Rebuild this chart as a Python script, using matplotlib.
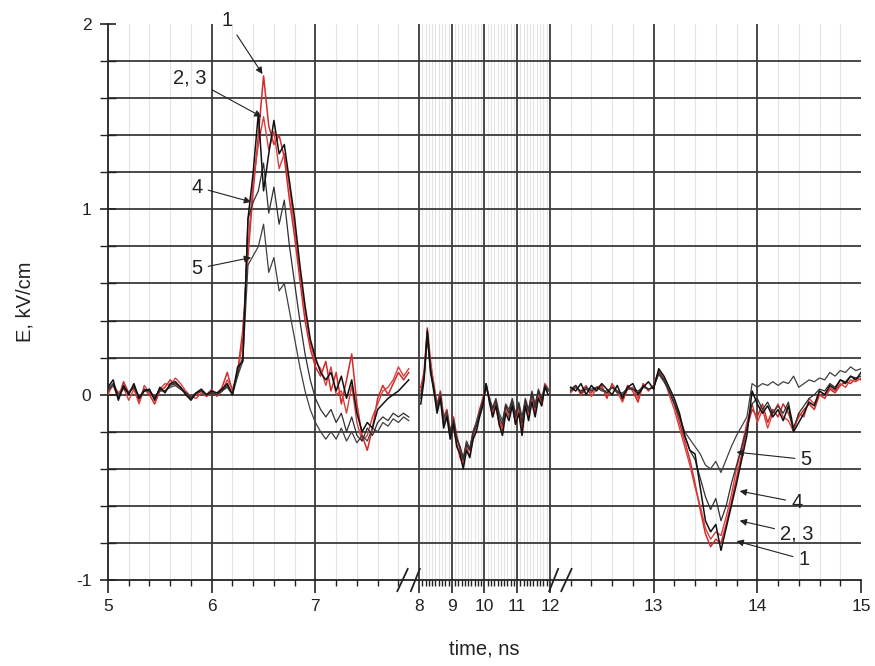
import matplotlib
matplotlib.use('Agg')
import matplotlib.pyplot as plt
import matplotlib.transforms as mtransforms
import numpy as np

plt.rcParams['font.family'] = ['Liberation Sans', 'DejaVu Sans']
plt.rcParams['axes.unicode_minus'] = False

# time samples of the three recorded pieces (ns)
tA = np.round(np.arange(5.0, 7.901, 0.05), 2)
tB = np.round(np.arange(8.05, 11.951, 0.1), 2)
tC = np.round(np.arange(12.2, 15.001, 0.05), 2)

# field, kV/cm
c1A = [0.02, 0.05, -0.02, 0.07, 0.01, 0.04, -0.04, 0.03, 0.00, -0.05, 0.02, 0.04, 0.08, 0.05, 0.03, 0.01, -0.02, 0.00, 0.02, -0.01, 0.01, 0.00, 0.04, 0.12, 0.02,
       0.12, 0.35, 0.75, 1.10, 1.40, 1.72, 1.45, 1.35, 1.40, 1.28, 1.05, 0.85, 0.62, 0.40, 0.25, 0.15, 0.10, 0.18, 0.02, 0.12,
       -0.05, 0.08, 0.22, -0.05, -0.22, -0.30, -0.18, -0.02, 0.05, 0.00, 0.06, 0.12, 0.08, 0.12]
c2A = [0.04, 0.08, -0.03, 0.05, 0.00, 0.06, -0.02, 0.02, 0.03, -0.03, 0.04, 0.01, 0.06, 0.07, 0.04, 0.00, -0.03, 0.01, 0.03, 0.00, 0.02, 0.01, 0.03, 0.06, 0.00,
       0.15, 0.18, 0.95, 1.20, 1.52, 1.10, 1.30, 1.48, 1.30, 1.35, 1.15, 0.95, 0.70, 0.48, 0.30, 0.20, 0.12, 0.08, 0.12, 0.02,
       0.10, -0.02, 0.08, -0.10, -0.20, -0.15, -0.18, -0.08, -0.05, -0.02, 0.00, 0.02, 0.05, 0.08]
c3A = [0.00, 0.06, 0.01, 0.04, -0.03, 0.03, -0.05, 0.05, 0.01, -0.02, 0.03, 0.06, 0.05, 0.09, 0.06, 0.02, -0.01, -0.02, 0.01, 0.00, 0.03, -0.01, 0.02, 0.08, 0.03,
       0.10, 0.30, 0.80, 1.15, 1.35, 1.50, 1.32, 1.42, 1.22, 1.30, 1.12, 0.90, 0.66, 0.45, 0.28, 0.18, 0.14, 0.05, 0.15, 0.00,
       0.02, -0.10, 0.05, -0.15, -0.25, -0.22, -0.12, -0.05, 0.02, 0.04, 0.08, 0.15, 0.10, 0.14]
c4A = [0.03, 0.06, -0.02, 0.04, 0.01, 0.05, -0.02, 0.03, 0.02, -0.02, 0.03, 0.02, 0.05, 0.06, 0.04, 0.01, -0.02, 0.01, 0.02, 0.00, 0.01, 0.00, 0.02, 0.05, 0.00,
       0.12, 0.20, 0.95, 1.04, 1.10, 1.25, 0.98, 1.12, 0.92, 1.05, 0.80, 0.60, 0.40, 0.22, 0.08, -0.02, -0.08, -0.12, -0.08, -0.15,
       -0.10, -0.20, -0.12, -0.22, -0.25, -0.18, -0.22, -0.15, -0.12, -0.14, -0.10, -0.12, -0.10, -0.12]
c5A = [0.02, 0.05, 0.00, 0.03, 0.01, 0.04, -0.01, 0.02, 0.02, -0.01, 0.02, 0.02, 0.04, 0.05, 0.03, 0.01, -0.01, 0.01, 0.02, 0.00, 0.01, 0.00, 0.02, 0.04, 0.00,
       0.10, 0.18, 0.70, 0.75, 0.80, 0.92, 0.66, 0.74, 0.56, 0.60, 0.45, 0.30, 0.15, 0.02, -0.08, -0.15, -0.20, -0.24, -0.20, -0.24,
       -0.18, -0.25, -0.20, -0.26, -0.22, -0.25, -0.18, -0.20, -0.15, -0.17, -0.13, -0.15, -0.12, -0.14]

c1B = [0.04, 0.12, 0.36, 0.18, 0.04, -0.05, 0.02, -0.12, -0.08, -0.20, -0.12, -0.22, -0.30, -0.36, -0.26, -0.30, -0.20, -0.15, -0.08, -0.02,
       0.05, -0.02, -0.12, -0.04, -0.14, -0.18, -0.06, -0.10, -0.04, -0.14, -0.06, -0.18, -0.04, -0.10, 0.00, -0.08, 0.02, -0.04, 0.06, 0.03]
c2B = [-0.05, 0.08, 0.34, 0.12, 0.02, -0.10, -0.02, -0.18, -0.12, -0.24, -0.16, -0.28, -0.32, -0.40, -0.30, -0.34, -0.24, -0.20, -0.12, -0.06,
       0.06, -0.04, -0.12, -0.06, -0.16, -0.22, -0.10, -0.14, -0.06, -0.16, -0.10, -0.22, -0.06, -0.14, -0.04, -0.12, -0.02, -0.06, 0.04, 0.00]
c3B = [0.02, 0.10, 0.32, 0.16, 0.06, -0.06, 0.00, -0.14, -0.10, -0.22, -0.18, -0.26, -0.34, -0.38, -0.28, -0.33, -0.24, -0.16, -0.10, -0.04,
       0.04, -0.01, -0.10, -0.06, -0.16, -0.20, -0.08, -0.12, -0.05, -0.16, -0.08, -0.20, -0.06, -0.12, -0.02, -0.10, 0.00, -0.06, 0.04, 0.02]
c4B = [-0.02, 0.10, 0.35, 0.14, 0.03, -0.08, -0.01, -0.16, -0.11, -0.21, -0.14, -0.24, -0.28, -0.35, -0.27, -0.30, -0.21, -0.17, -0.10, -0.05,
       0.06, -0.03, -0.08, -0.03, -0.12, -0.16, -0.06, -0.10, -0.03, -0.12, -0.05, -0.15, -0.03, -0.09, 0.01, -0.07, 0.02, -0.03, 0.05, 0.02]
c5B = [0.00, 0.09, 0.30, 0.12, 0.04, -0.07, 0.01, -0.13, -0.09, -0.20, -0.13, -0.23, -0.28, -0.34, -0.25, -0.29, -0.20, -0.15, -0.09, -0.03,
       0.04, -0.02, -0.07, -0.02, -0.10, -0.14, -0.05, -0.08, -0.02, -0.10, -0.04, -0.12, -0.02, -0.08, 0.02, -0.05, 0.03, -0.02, 0.05, 0.03]

c1C = [0.02, 0.05, 0.00, 0.03, 0.01, 0.04, 0.05, -0.02, 0.06, 0.01, -0.03, 0.05, 0.02, -0.04, 0.06, 0.02, 0.05,
       0.13, 0.08, 0.02, -0.05, -0.15, -0.25, -0.35, -0.48, -0.62, -0.75, -0.82, -0.78, -0.80, -0.70, -0.58, -0.45, -0.32, -0.18, -0.08, -0.12,
       -0.05, -0.15, -0.08, -0.12, -0.05, -0.10, -0.18, -0.12, -0.08, -0.05, -0.08, 0.00, -0.02, 0.03, 0.01, 0.05, 0.07, 0.06, 0.09, 0.08]
c2C = [0.04, 0.02, 0.06, 0.00, 0.05, 0.02, 0.06, 0.03, 0.00, 0.05, -0.02, 0.04, 0.06, 0.00, 0.04, 0.07, 0.03,
       0.14, 0.10, 0.04, -0.02, -0.10, -0.22, -0.30, -0.32, -0.50, -0.68, -0.74, -0.70, -0.84, -0.72, -0.60, -0.48, -0.35, -0.22, 0.02, -0.05,
       -0.10, -0.06, -0.12, -0.08, -0.14, -0.06, -0.20, -0.15, -0.10, -0.04, -0.06, 0.02, 0.00, 0.05, 0.03, 0.08, 0.06, 0.10, 0.08, 0.12]
c3C = [0.01, 0.04, 0.02, 0.05, -0.01, 0.03, 0.04, 0.00, 0.05, 0.02, -0.04, 0.03, 0.04, -0.02, 0.05, 0.03, 0.04,
       0.12, 0.09, 0.00, -0.08, -0.18, -0.28, -0.38, -0.50, -0.60, -0.72, -0.78, -0.74, -0.76, -0.66, -0.54, -0.40, -0.28, -0.15, -0.05, -0.15,
       -0.08, -0.18, -0.10, -0.05, -0.12, -0.14, -0.20, -0.10, -0.12, -0.02, -0.05, 0.02, 0.00, 0.04, 0.02, 0.06, 0.04, 0.08, 0.07, 0.09]
c4C = [0.03, 0.05, 0.01, 0.04, 0.02, 0.04, 0.03, 0.01, 0.04, 0.02, 0.00, 0.04, 0.03, 0.01, 0.05, 0.03, 0.04,
       0.12, 0.08, 0.02, -0.05, -0.12, -0.22, -0.30, -0.35, -0.45, -0.55, -0.62, -0.56, -0.68, -0.60, -0.48, -0.38, -0.28, -0.18, -0.05, -0.02,
       -0.08, -0.04, -0.10, -0.06, -0.10, -0.04, -0.18, -0.10, -0.06, -0.02, 0.00, 0.03, 0.02, 0.06, 0.04, 0.08, 0.07, 0.10, 0.09, 0.10]
c5C = [0.02, 0.04, 0.02, 0.03, 0.03, 0.04, 0.02, 0.02, 0.04, 0.01, 0.01, 0.03, 0.03, 0.02, 0.04, 0.03, 0.04,
       0.11, 0.07, 0.02, -0.04, -0.12, -0.20, -0.24, -0.28, -0.32, -0.38, -0.40, -0.36, -0.42, -0.35, -0.28, -0.22, -0.17, -0.12, 0.06, 0.04,
       0.06, 0.05, 0.07, 0.05, 0.07, 0.06, 0.10, 0.04, 0.06, 0.08, 0.07, 0.09, 0.08, 0.12, 0.10, 0.13, 0.12, 0.15, 0.13, 0.14]

curves = [
    (c1A, c1B, c1C, '#d42a2a', 1.1),
    (c3A, c3B, c3C, '#d84040', 1.0),
    (c5A, c5B, c5C, '#404040', 0.9),
    (c4A, c4B, c4C, '#303030', 0.9),
    (c2A, c2B, c2C, '#111111', 1.1),
]

# broken time axis: 8-12 ns compressed
brk_t = [0, 8, 12, 20]
brk_u = [0, 8, 9.26, 17.26]
def fwd(t):
    return np.interp(t, brk_t, brk_u)
def inv(u):
    return np.interp(u, brk_u, brk_t)

fig = plt.figure(figsize=(8.75, 6.66), dpi=100)
ax = fig.add_axes([0.1234, 0.1291, 0.8606, 0.8348])
ax.set_xscale('function', functions=(fwd, inv))
ax.set_xlim(5, 15)
ax.set_ylim(-1, 2)

minor_x = list(np.round(np.arange(5.2, 8.0, 0.2), 2)) + list(np.round(np.arange(8.1, 12.0, 0.1), 2)) + list(np.round(np.arange(12.2, 15.0, 0.2), 2))
minor_x = [v for v in minor_x if abs(v - round(v)) > 0.01]
for v in minor_x:
    ax.axvline(v, color='#e4e4e4', lw=0.8, zorder=0)
for v in range(6, 15):
    ax.axvline(v, color='#3a3a3a', lw=1.3, zorder=1)
for v in np.round(np.arange(-0.8, 1.81, 0.2), 1):
    ax.axhline(v, color='#3a3a3a', lw=1.3, zorder=1)

nan = [np.nan]
for a, b, c, col, lw in curves:
    t = np.concatenate([tA, nan, tB, nan, tC])
    e = np.concatenate([a, nan, b, nan, c])
    ax.plot(t, e, color=col, lw=lw, zorder=3)

ax.set_xticks(range(5, 16))
ax.set_xticks(minor_x, minor=True)
ax.set_yticks([-1, 0, 1, 2])
ax.set_yticks(np.round(np.arange(-0.8, 1.81, 0.2), 1), minor=True)
ax.tick_params(axis='x', which='major', direction='out', length=9, width=1.2, labelsize=12.5, colors='#222222', pad=5)
ax.tick_params(axis='x', which='minor', direction='out', length=4, width=1.0, colors='#222222')
ax.tick_params(axis='y', which='major', direction='inout', length=12, width=1.2, labelsize=12.5, colors='#222222', pad=6)
ax.tick_params(axis='y', which='minor', direction='inout', length=12, width=1.0, colors='#222222')
for s in ['top', 'right']:
    ax.spines[s].set_visible(False)
for s in ['left', 'bottom']:
    ax.spines[s].set_linewidth(1.3)
    ax.spines[s].set_color('#222222')

# break marks on the time axis
trans = mtransforms.blended_transform_factory(ax.transData, ax.transAxes)
for xb in [7.84, 7.97, 12.03, 12.16]:
    ax.plot([xb - 0.05, xb + 0.05], [-0.02, 0.02], color='#222222', lw=1.3,
            transform=trans, clip_on=False, zorder=5)

ax.set_xlabel('time, ns', fontsize=14.5, color='#222222', labelpad=18)
ax.set_ylabel('E, kV/cm', fontsize=14.5, color='#222222', labelpad=30)

arrow = dict(arrowstyle='-|>', color='#222222', lw=0.8, mutation_scale=10, shrinkA=2, shrinkB=0)
labels = [
    ('1', (6.49, 1.73), (6.15, 2.02)),
    ('2, 3', (6.48, 1.50), (5.79, 1.71)),
    ('4', (6.38, 1.04), (5.86, 1.12)),
    ('5', (6.38, 0.74), (5.86, 0.68)),
    ('5', (13.80, -0.31), (14.47, -0.35)),
    ('4', (13.83, -0.52), (14.38, -0.58)),
    ('2, 3', (13.83, -0.68), (14.38, -0.75)),
    ('1', (13.80, -0.79), (14.45, -0.89)),
]
for txt, xy, xyt in labels:
    ax.annotate(txt, xy=xy, xytext=xyt, fontsize=14.5, color='#222222',
                ha='center', va='center', arrowprops=arrow, zorder=6,
                annotation_clip=False)

fig.savefig('out.png', dpi=100)
